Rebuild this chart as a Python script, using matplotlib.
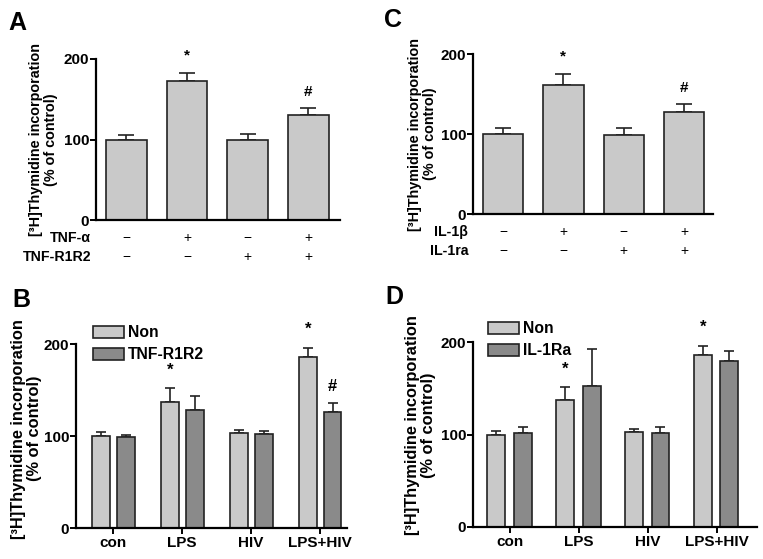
"""
[3H]Thymidine incorporation panels A-D
"""
import matplotlib
matplotlib.use('Agg')
import matplotlib.pyplot as plt
import matplotlib.transforms as mtransforms
import numpy as np

plt.rcParams['font.family'] = ['Liberation Sans', 'DejaVu Sans']
plt.rcParams['font.weight'] = 'bold'

# ---- data ----
# Panel A: TNF-alpha / TNF-R1R2
a_means = [100, 173, 99, 131]
a_err = [5, 9, 8, 8]
a_row1 = ['−', '+', '−', '+']   # TNF-α
a_row2 = ['−', '−', '+', '+']   # TNF-R1R2
a_marks = ['', '*', '', '#']

# Panel C: IL-1beta / IL-1ra
c_means = [100, 161, 99, 128]
c_err = [7, 14, 8, 9]
c_row1 = ['−', '+', '−', '+']   # IL-1β
c_row2 = ['−', '−', '+', '+']   # IL-1ra
c_marks = ['', '*', '', '#']

# Panels B and D: grouped
groups = ['con', 'LPS', 'HIV', 'LPS+HIV']
b_non = [100, 137, 103, 186]
b_non_err = [4, 15, 3, 10]
b_trt = [99, 128, 102, 126]
b_trt_err = [2, 16, 3, 10]
b_non_marks = ['', '*', '', '*']
b_trt_marks = ['', '', '', '#']

d_non = [100, 137, 103, 186]
d_non_err = [4, 14, 3, 10]
d_trt = [102, 152, 102, 180]
d_trt_err = [6, 40, 6, 10]
d_non_marks = ['', '*', '', '*']
d_trt_marks = ['', '', '', '']

light = '#c9c9c9'
dark = '#8a8a8a'

W, H = 763, 559
fig = plt.figure(figsize=(W / 100, H / 100), dpi=100)

# pixel gap between top of error bar and centre of marker
mark_gap = {'*': 18, '#': 16}


def px_axes(left, right, top, bottom):
    return fig.add_axes([left / W, 1 - bottom / H, (right - left) / W, (bottom - top) / H])


def style(ax):
    for s in ['top', 'right']:
        ax.spines[s].set_visible(False)
    for s in ['left', 'bottom']:
        ax.spines[s].set_linewidth(1.6)
    ax.set_ylim(0, 200)
    ax.set_yticks([0, 100, 200])
    ax.tick_params(axis='y', length=4, width=1.4, labelsize=11, pad=1)
    ax.tick_params(axis='x', length=4, width=1.4)
    for t in ax.get_yticklabels():
        t.set_fontweight('bold')


def ylab(ax, xpos, ypos, size):
    ax.set_ylabel('[³H]Thymidine incorporation\n(% of control)', fontsize=size,
                  fontweight='bold', linespacing=1.1)
    ax.yaxis.set_label_coords(xpos, ypos)


def put_mark(ax, xi, top, mk, size):
    ax.annotate(mk, (xi, top), xytext=(0, mark_gap[mk]), textcoords='offset pixels',
                ha='center', va='center', fontsize=size, fontweight='bold',
                annotation_clip=False)


def simple_panel(ax, means, err, marks, row1, row2, name1, name2, capsize):
    x = np.arange(len(means))
    ax.bar(x, means, width=0.67, color=light, edgecolor='#222222', linewidth=1.2, zorder=2)
    ax.errorbar(x, means, yerr=[np.zeros(len(err)), err], fmt='none', ecolor='#222222',
                elinewidth=1.2, capsize=capsize, capthick=1.2, zorder=1)
    for xi, m, e, mk in zip(x, means, err, marks):
        if mk:
            put_mark(ax, xi, m + e, mk, 11)
    ax.set_xticks([])
    trans = mtransforms.blended_transform_factory(ax.transData, ax.transAxes)
    for xi, s1, s2 in zip(x, row1, row2):
        ax.text(xi, -0.11, s1, transform=trans, ha='center', va='center', fontsize=10,
                fontweight='normal')
        ax.text(xi, -0.23, s2, transform=trans, ha='center', va='center', fontsize=10,
                fontweight='normal')
    ax.text(-0.02, -0.11, name1, transform=ax.transAxes, ha='right', va='center',
            fontsize=10.2, fontweight='bold')
    ax.text(-0.02, -0.23, name2, transform=ax.transAxes, ha='right', va='center',
            fontsize=10.2, fontweight='bold')


def grouped_panel(ax, non, non_err, trt, trt_err, non_marks, trt_marks, trt_name, offsets):
    x = np.arange(len(groups))
    w = 0.26
    for vals, errs, marks, col, off, lab in [(non, non_err, non_marks, light, offsets[0], 'Non'),
                                              (trt, trt_err, trt_marks, dark, offsets[1], trt_name)]:
        ax.bar(x + off, vals, width=w, color=col, edgecolor='#222222', linewidth=1.2,
               zorder=2, label=lab)
        ax.errorbar(x + off, vals, yerr=[np.zeros(len(errs)), errs], fmt='none',
                    ecolor='#222222', elinewidth=1.2, capsize=3.5, capthick=1.2, zorder=1)
        for xi, v, e, mk in zip(x + off, vals, errs, marks):
            if mk:
                put_mark(ax, xi, v + e, mk, 12)
    ax.set_xticks(x)
    ax.set_xticklabels(groups, fontsize=11, fontweight='bold')
    ax.tick_params(axis='x', pad=2)


legend_kw = dict(loc='upper left', bbox_transform=fig.transFigure, frameon=False,
                 fontsize=11.3, handlelength=2.0, handleheight=0.8, labelspacing=0.45,
                 handletextpad=0.25, borderaxespad=0, borderpad=0)

# Panel A
axA = px_axes(96, 340, 59, 220)
axA.set_xlim(-0.5, 3.52)
style(axA)
simple_panel(axA, a_means, a_err, a_marks, a_row1, a_row2, 'TNF-α', 'TNF-R1R2', 6)
ylab(axA, -0.156, 0.5, 10.4)

# Panel C
axC = px_axes(473, 713, 54, 214)
axC.set_xlim(-0.5, 3.48)
style(axC)
simple_panel(axC, c_means, c_err, c_marks, c_row1, c_row2, 'IL-1β', 'IL-1ra', 6)
ylab(axC, -0.15, 0.5, 10.4)

# Panel B
axB = px_axes(76, 347, 344, 528)
axB.set_xlim(-0.54, 3.39)
style(axB)
grouped_panel(axB, b_non, b_non_err, b_trt, b_trt_err, b_non_marks, b_trt_marks,
              'TNF-R1R2', (-0.18, 0.18))
ylab(axB, -0.124, 0.54, 11.8)
axB.legend(bbox_to_anchor=(93 / W, 1 - 325 / H), **legend_kw)

# Panel D
axD = px_axes(473, 757, 342, 527)
axD.set_xlim(-0.54, 3.58)
style(axD)
grouped_panel(axD, d_non, d_non_err, d_trt, d_trt_err, d_non_marks, d_trt_marks,
              'IL-1Ra', (-0.2, 0.18))
ylab(axD, -0.13, 0.55, 11.8)
axD.legend(bbox_to_anchor=(488 / W, 1 - 321 / H), **legend_kw)

# Panel letters
for lab, (px, py) in {'A': (8, 30), 'C': (384, 27), 'B': (12, 307), 'D': (385, 304)}.items():
    fig.text(px / W, 1 - py / H, lab, fontsize=18, fontweight='bold', ha='left', va='baseline')

fig.savefig('out.png', dpi=100)
